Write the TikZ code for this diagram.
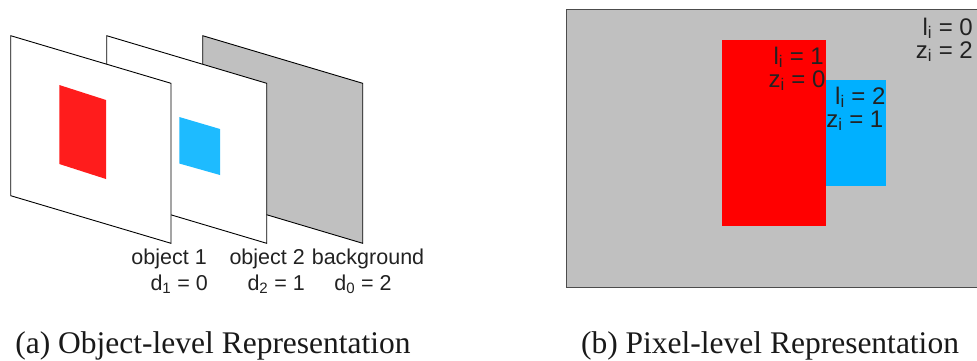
\documentclass[tikz,border=0pt]{standalone}
\usepackage{fontspec}
\setmainfont{Liberation Serif}
\newfontfamily\lblfont{Liberation Sans}
\definecolor{planegrey}{RGB}{192,192,192}
\definecolor{objred}{RGB}{255,28,28}
\definecolor{objblue}{RGB}{30,187,255}
\definecolor{pixred}{RGB}{255,0,0}
\definecolor{pixblue}{RGB}{0,176,255}
\definecolor{txt}{RGB}{34,34,34}
\begin{document}
\begin{tikzpicture}[x=1pt,y=-1pt,
  plane/.style={draw=black,line width=0.9pt,line join=miter},
  lblL/.style={inner sep=0pt,text=txt,font=\lblfont\fontsize{21.5}{24}\selectfont},
  lblR/.style={inner sep=0pt,text=txt,font=\lblfont\fontsize{24}{26}\selectfont},
  capt/.style={inner sep=0pt,text=black!90,font=\fontsize{31.5}{34}\selectfont}]
\useasboundingbox (0,0) rectangle (977,360);
% ---------- (a) object-level ----------
% background plane
\filldraw[plane,fill=planegrey] (202.7,35.7) -- (362.7,83.3) -- (362.7,243.3) -- (202.7,195.7) -- cycle;
% object 2 plane
\filldraw[plane,fill=white] (106.7,35.7) -- (266.7,83.3) -- (266.7,243.3) -- (106.7,195.7) -- cycle;
\fill[objblue] (179.3,117) -- (220,129) -- (220,175) -- (179.3,163.5) -- cycle;
% object 1 plane
\filldraw[plane,fill=white] (10.7,35.7) -- (171,83.3) -- (171,243.3) -- (10.7,195.7) -- cycle;
\fill[objred] (59.3,85) -- (106,100) -- (106,179) -- (59.3,164) -- cycle;
% labels
\node[lblL,anchor=base east] (o1) at (207,264) {object 1};
\node[lblL,anchor=base east] (d1) at (208,290) {d\textsubscript{1} = 0};
\node[lblL,anchor=base east] (o2) at (305,264) {object 2};
\node[lblL,anchor=base east] (d2) at (305,290) {d\textsubscript{2} = 1};
\node[lblL,anchor=base] (bg) at (368,264) {background};
\node[lblL,anchor=base] (d0) at (363,290) {d\textsubscript{0} = 2};
% ---------- (b) pixel-level ----------
\begin{scope}
\clip (0,0) rectangle (977,360);
\filldraw[draw=black!70,line width=1.2pt,fill=planegrey] (566.7,9.3) rectangle (990,287.3);
\end{scope}
\fill[pixred] (722,40) rectangle (825.7,225.7);
\fill[pixblue] (825.7,80) rectangle (885.7,185.7);
\node[lblR,anchor=base east] (l1) at (824,64) {l\textsubscript{i} = 1};
\node[lblR,anchor=base east] (z1) at (825.7,87) {z\textsubscript{i} = 0};
\node[lblR,anchor=base east] (l2) at (885.7,104) {l\textsubscript{i} = 2};
\node[lblR,anchor=base east] (z2) at (883.5,127) {z\textsubscript{i} = 1};
\node[lblR,anchor=base east] (l0) at (973,35) {l\textsubscript{i} = 0};
\node[lblR,anchor=base east] (z0) at (973,58) {z\textsubscript{i} = 2};
% ---------- captions ----------
\node[capt,anchor=base] (ca) at (213,353) {(a) Object-level Representation};
\node[capt,anchor=base] (cb) at (770,353) {(b) Pixel-level Representation};
\end{tikzpicture}
\end{document}
